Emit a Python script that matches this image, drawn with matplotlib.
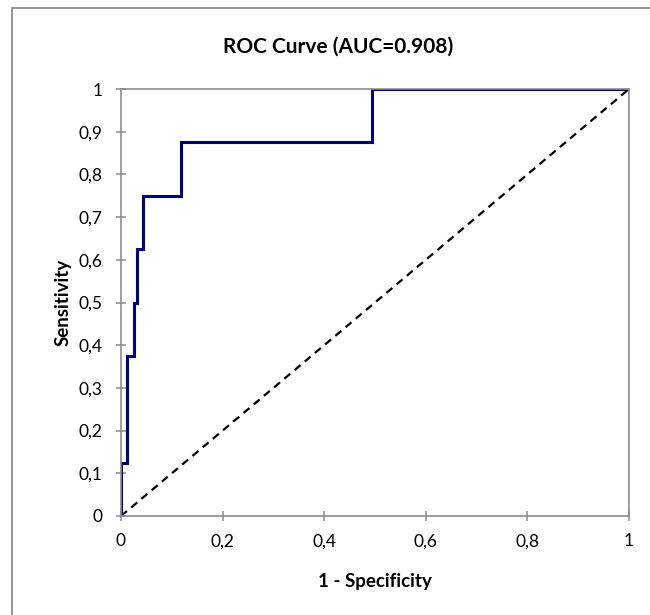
import matplotlib
matplotlib.use("Agg")
import matplotlib.pyplot as plt
from matplotlib.patches import Rectangle

# ROC corner points (1 - specificity, sensitivity)
fpr = [0, 0, 0.0125, 0.0125, 0.025, 0.025, 0.03125, 0.03125,
       0.04375, 0.04375, 0.11875, 0.11875, 0.49375, 0.49375, 1]
tpr = [0, 0.125, 0.125, 0.375, 0.375, 0.5, 0.5, 0.625,
       0.625, 0.75, 0.75, 0.875, 0.875, 1, 1]
ref_line = [0, 1]
auc = 0.908

xticks = [0, 0.2, 0.4, 0.6, 0.8, 1]
yticks = [0, 0.1, 0.2, 0.3, 0.4, 0.5, 0.6, 0.7, 0.8, 0.9, 1]

plt.rcParams["font.family"] = ["Lato", "DejaVu Sans"]
GRAY = "#8c8c8c"

def comma(v):
    s = f"{v:g}"
    return s.replace(".", ",")

fig = plt.figure(figsize=(6.5, 6.15), dpi=100)
ax = fig.add_axes([121 / 650, 1 - 516 / 615, 508 / 650, 427 / 615])

ax.plot(ref_line, ref_line, color="black", lw=1.6, linestyle=(0, (3.5, 2.5)))
ax.plot(fpr, tpr, color="#000080", lw=2.2, solid_joinstyle="miter")

ax.set_xlim(0, 1)
ax.set_ylim(0, 1)
ax.set_xticks(xticks)
ax.set_xticklabels([comma(v) for v in xticks])
ax.set_yticks(yticks)
ax.set_yticklabels([comma(v) for v in yticks])
ax.tick_params(direction="inout", length=7, width=1.1, color=GRAY,
               labelsize=12.5, labelcolor="black")
ax.tick_params(axis="y", pad=10)
ax.tick_params(axis="x", pad=9)
for sp in ax.spines.values():
    sp.set_color(GRAY)
    sp.set_linewidth(1.2)

ax.set_xlabel("1 - Specificity", fontsize=13.5, fontweight="bold", labelpad=17)
ax.set_ylabel("Sensitivity", fontsize=13.5, fontweight="bold", labelpad=5)
fig.text(338 / 650, 1 - 47 / 615, f"ROC Curve (AUC={auc})", ha="center",
         va="center", fontsize=15, fontweight="bold")

# chart area border (runs past the right and bottom edge)
fig.patches.append(Rectangle((12 / 650, -0.1), 1.1, 1 - 7.5 / 615 + 0.1,
                             transform=fig.transFigure, fill=False,
                             edgecolor=GRAY, lw=1.3))

fig.savefig("out.png", dpi=100)
